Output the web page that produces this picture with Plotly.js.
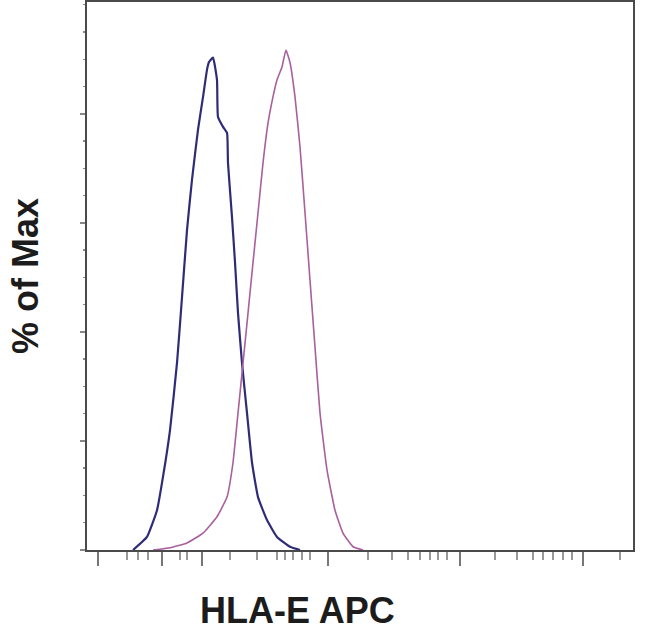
<!DOCTYPE html>
<html>
<head>
<meta charset="utf-8">
<script src="https://cdn.plot.ly/plotly-3.0.1.min.js"></script>
<style>
  html, body { margin: 0; padding: 0; background: #fff; }
  #plot { width: 650px; height: 630px; }
</style>
</head>
<body>
<div id="plot"></div>
<script>
// channel scale (0-1024), y = % of max
var isoX = [86.3, 112.5, 131.3, 142.5, 155.7, 168.8, 178.2, 187.6, 196.9, 208.2, 217.6, 225.1, 228.8, 236.3, 243.8, 245.7, 255.1, 262.6, 264.4, 271.9, 277.6, 283.2, 290.7, 300.1, 309.5, 320.7, 337.6, 356.3, 380.7, 399.5];
var isoY = [0, 2.4, 7.3, 13.4, 22.0, 34.3, 46.4, 58.7, 67.9, 77.1, 83.1, 88.1, 89.5, 90.3, 86.2, 79.4, 77.6, 76.5, 71.0, 61.1, 52.7, 43.5, 34.3, 25.1, 16.0, 9.7, 5.5, 2.4, 0.6, 0];

var hlaX = [123.8, 155.7, 187.6, 217.6, 243.8, 262.6, 273.8, 283.2, 292.6, 302.0, 311.3, 320.7, 330.1, 339.5, 348.8, 356.3, 365.7, 373.2, 380.7, 390.1, 399.5, 408.9, 418.2, 427.6, 437.0, 450.1, 465.1, 480.1, 498.9, 517.6];
var hlaY = [0, 0.4, 1.3, 3.1, 6.1, 9.7, 16.0, 25.1, 34.3, 43.5, 52.7, 61.8, 71.0, 78.3, 83.1, 86.2, 88.6, 91.7, 89.4, 83.1, 73.9, 61.8, 49.5, 37.2, 25.1, 14.7, 7.3, 3.1, 0.6, 0];

// axis ticks (biexponential display, no labels)
var xMajor = [20.6, 140.7, 215.7, 452.0, 699.6, 930.2];
var xMinor = [75.0, 95.7, 114.4, 174.4, 187.6, 268.2, 318.8, 356.3, 371.3, 386.4, 403.2, 418.2,
              527.0, 572.0, 602.0, 624.5, 643.3, 658.3, 675.2,
              765.2, 806.5, 836.5, 855.2, 874.0, 892.7, 909.6, 999.6];
var yMajor = [0, 20, 40, 60, 80];

var data = [
  {x: isoX, y: isoY, mode: "lines", type: "scatter", name: "Isotype",
   line: {color: "#2e2c78", width: 2.2, shape: "spline", smoothing: 0.4}},
  {x: hlaX, y: hlaY, mode: "lines", type: "scatter", name: "HLA-E APC",
   line: {color: "#a8609e", width: 1.6, shape: "spline", smoothing: 0.4}}
];

var layout = {
  width: 650,
  height: 630,
  margin: {t: 2, r: 17, b: 80, l: 87},
  paper_bgcolor: "#fff",
  plot_bgcolor: "#fff",
  showlegend: false,
  font: {family: "Liberation Sans, Arial, sans-serif", color: "#1c1c1c"},
  xaxis: {
    range: [0, 1024],
    showgrid: false, zeroline: false,
    showline: true, mirror: true, linecolor: "#4a4a4a", linewidth: 2,
    tickmode: "array", tickvals: xMajor, showticklabels: false,
    ticks: "outside", ticklen: 14, tickwidth: 1.5, tickcolor: "#777",
    minor: {tickvals: xMinor, ticks: "outside", ticklen: 8, tickwidth: 1.2, tickcolor: "#999"}
  },
  yaxis: {
    range: [0, 100.5],
    showgrid: false, zeroline: false,
    showline: true, mirror: true, linecolor: "#4a4a4a", linewidth: 2,
    tickmode: "array", tickvals: yMajor, showticklabels: false,
    ticks: "outside", ticklen: 5, tickwidth: 1.5, tickcolor: "#888",
    minor: {dtick: 5, ticks: "outside", ticklen: 2, tickwidth: 1.5, tickcolor: "#888"},
    title: {text: "% of Max", font: {size: 36, weight: "bold"}, standoff: 30}
  },
  annotations: [{
    text: "HLA-E APC", showarrow: false,
    xref: "paper", yref: "paper", x: 0.3855, y: -0.1095,
    xanchor: "center", yanchor: "middle",
    font: {size: 36, weight: "bold", color: "#1c1c1c"}
  }]
};

Plotly.newPlot("plot", data, layout, {staticPlot: true});
</script>
</body>
</html>
